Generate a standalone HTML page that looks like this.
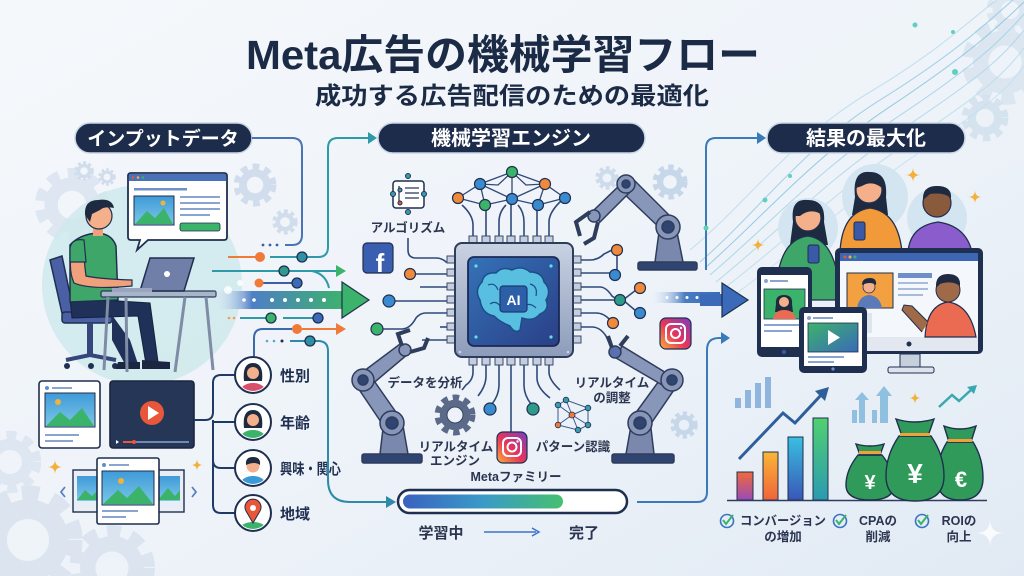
<!DOCTYPE html>
<html><head><meta charset="utf-8">
<style>
html,body{margin:0;padding:0;width:1024px;height:576px;overflow:hidden;background:#eef3f8}
svg{display:block}
text{font-family:"Liberation Sans","Noto Sans CJK JP",sans-serif;font-weight:bold}
</style></head>
<body>
<svg width="1024" height="576" viewBox="0 0 1024 576" xmlns="http://www.w3.org/2000/svg">
<defs>
<linearGradient id="bg" x1="0" y1="0" x2="1" y2="1">
<stop offset="0" stop-color="#f5f8fb"/><stop offset="0.55" stop-color="#eef3f9"/><stop offset="1" stop-color="#e1eaf4"/></linearGradient>
<linearGradient id="band" x1="0" y1="0" x2="1" y2="0">
<stop offset="0" stop-color="#eaf2fa" stop-opacity="0"/><stop offset="0.3" stop-color="#4e7fc6"/><stop offset="1" stop-color="#3cb36a"/></linearGradient>
<linearGradient id="band2" x1="0" y1="0" x2="1" y2="0">
<stop offset="0" stop-color="#eaf2fa" stop-opacity="0"/><stop offset="0.5" stop-color="#4a7cc4"/><stop offset="1" stop-color="#3a6ab8"/></linearGradient>
<linearGradient id="prog" x1="0" y1="0" x2="1" y2="0">
<stop offset="0" stop-color="#3a62c0"/><stop offset="0.5" stop-color="#3a9ac8"/><stop offset="1" stop-color="#46c070"/></linearGradient>
<linearGradient id="ig" x1="0" y1="1" x2="1" y2="0">
<stop offset="0" stop-color="#f9b03a"/><stop offset="0.45" stop-color="#e8355a"/><stop offset="1" stop-color="#7a3ec0"/></linearGradient>
<linearGradient id="chip" x1="0" y1="0" x2="0" y2="1">
<stop offset="0" stop-color="#c9d2e2"/><stop offset="1" stop-color="#8d9cba"/></linearGradient>
<linearGradient id="chipIn" x1="0" y1="0" x2="1" y2="1">
<stop offset="0" stop-color="#3572b8"/><stop offset="1" stop-color="#2a3f86"/></linearGradient>
<linearGradient id="b1" x1="0" y1="0" x2="0" y2="1"><stop offset="0" stop-color="#f06a3a"/><stop offset="1" stop-color="#9a4ab8"/></linearGradient>
<linearGradient id="b2" x1="0" y1="0" x2="0" y2="1"><stop offset="0" stop-color="#f8b636"/><stop offset="1" stop-color="#f0643a"/></linearGradient>
<linearGradient id="b3" x1="0" y1="0" x2="0" y2="1"><stop offset="0" stop-color="#38c0e0"/><stop offset="1" stop-color="#3a56b8"/></linearGradient>
<linearGradient id="b4" x1="0" y1="0" x2="0" y2="1"><stop offset="0" stop-color="#52d070"/><stop offset="1" stop-color="#2a9ab0"/></linearGradient>
<linearGradient id="sky" x1="0" y1="0" x2="0" y2="1"><stop offset="0" stop-color="#3f9ad8"/><stop offset="1" stop-color="#7cc8e8"/></linearGradient>
<linearGradient id="vid" x1="0" y1="0" x2="1" y2="1"><stop offset="0" stop-color="#3cb36a"/><stop offset="1" stop-color="#3a6ab8"/></linearGradient>
<g id="gear"><circle r="15" fill="none" stroke-width="9" stroke-dasharray="5.5 4.3"/><circle r="11" fill="none" stroke-width="7"/></g>
<clipPath id="av"><circle r="16"/></clipPath>
<path id="star" d="M0,-7 Q0,0 7,0 Q0,0 0,7 Q0,0 -7,0 Q0,0 0,-7Z"/>
</defs>

<rect width="1024" height="576" fill="url(#bg)"/>

<!-- background gears -->
<g opacity="0.9">
<use href="#gear" stroke="#dbe5f0" transform="translate(72,205) scale(1.9)"/>
<use href="#gear" stroke="#dbe5f0" transform="translate(10,462) scale(1.6)"/>
<use href="#gear" stroke="#d8e3ee" transform="translate(28,540) scale(2.8)"/>
<use href="#gear" stroke="#d8e3ee" transform="translate(112,568) scale(2.2)"/>
<use href="#gear" stroke="#cddbea" transform="translate(255,185) scale(1.1)"/>
<use href="#gear" stroke="#cddbea" transform="translate(285,222) scale(0.65)"/>
<use href="#gear" stroke="#cddbea" transform="translate(84,171) scale(0.5)"/>
<use href="#gear" stroke="#cddbea" transform="translate(107,177) scale(0.45)"/>
<use href="#gear" stroke="#c9d9ea" transform="translate(607,178) scale(0.6)"/>
<use href="#gear" stroke="#c2d4e8" transform="translate(670,182) scale(0.9)"/>
<use href="#gear" stroke="#c2d4e8" transform="translate(684,425) scale(0.7)"/>
<use href="#gear" stroke="#dae5f0" transform="translate(1005,62) scale(2.2)"/>
<use href="#gear" stroke="#d3e1ee" transform="translate(985,118) scale(1.2)"/>
<use href="#gear" stroke="#dbe6f0" transform="translate(1010,10) scale(1.2)"/>
</g>

<!-- swirl lines top right -->
<g fill="none" stroke-width="1.1" opacity="0.75">
<path d="M700,262 C760,210 800,150 880,100 S990,20 1024,-10" stroke="#8ec6e0"/>
<path d="M705,268 C765,215 810,160 888,108 S995,30 1024,2" stroke="#7fc0dc"/>
<path d="M710,275 C772,222 818,170 896,118 S1000,42 1024,14" stroke="#9bcfe4"/>
<path d="M716,282 C780,230 826,180 904,128 S1004,56 1024,30" stroke="#a8d4e6"/>
<path d="M722,290 C790,238 836,190 912,140 S1008,70 1024,48" stroke="#b4dbe9"/>
<path d="M730,298 C800,248 846,202 920,152 S1010,86 1024,66" stroke="#c0e0ec"/>
<path d="M690,250 C750,200 790,140 870,92 S980,10 1010,-10" stroke="#b6d8ea"/>
</g>
<g fill="#5fd0c0"><circle cx="765" cy="200" r="2.5"/><circle cx="790" cy="176" r="2"/><circle cx="915" cy="25" r="2.5"/><circle cx="953" cy="32" r="2"/><circle cx="955" cy="72" r="3"/></g>

<!-- Title -->
<text x="503" y="69" text-anchor="middle" font-size="41" fill="#1b2a45" textLength="514" lengthAdjust="spacingAndGlyphs">Meta広告の機械学習フロー</text>
<text x="512" y="104" text-anchor="middle" font-size="24" fill="#1b2a45" textLength="394" lengthAdjust="spacingAndGlyphs">成功する広告配信のための最適化</text>

<!-- Pills -->
<rect x="75" y="123" width="177" height="30" rx="15" fill="#1d2c4b" stroke="#c9d6e6" stroke-width="1.5"/>
<text x="163" y="145" text-anchor="middle" font-size="19" fill="#fff">インプットデータ</text>
<rect x="378" y="123" width="267" height="30" rx="15" fill="#1d2c4b" stroke="#c9d6e6" stroke-width="1.5"/>
<text x="511" y="145" text-anchor="middle" font-size="20" fill="#fff">機械学習エンジン</text>
<rect x="767" y="123" width="198" height="30" rx="15" fill="#1d2c4b" stroke="#c9d6e6" stroke-width="1.5"/>
<text x="866" y="145" text-anchor="middle" font-size="20" fill="#fff">結果の最大化</text>

<!-- Left: person scene -->
<circle cx="142" cy="285" r="100" fill="#cfe9ec" opacity="0.85"/>
<!-- bubble -->
<path d="M128,176 Q128,173 131,173 H224 Q227,173 227,176 V237 Q227,240 224,240 H148 L137,250 L140,240 H131 Q128,240 128,237 Z" fill="#fff" stroke="#1f2f4f" stroke-width="1.8"/>
<rect x="129" y="174" width="97" height="7" fill="#4a72b8"/>
<circle cx="133" cy="177.5" r="1.3" fill="#e8573a"/><circle cx="138" cy="177.5" r="1.3" fill="#f2b13a"/><circle cx="143" cy="177.5" r="1.3" fill="#3cb36a"/>
<rect x="134" y="188" width="53" height="2.5" fill="#6f8fc8"/>
<rect x="134" y="196" width="40" height="29" fill="url(#sky)" stroke="#1f2f4f" stroke-width="1"/>
<path d="M135,224 L147,211 L155,218 L164,208 L173,224 Z" fill="#3cb36a"/>
<circle cx="163" cy="203" r="2.5" fill="#f2b13a"/>
<rect x="180" y="196" width="40" height="2" fill="#8aa4d0"/><rect x="180" y="202" width="40" height="2" fill="#8aa4d0"/><rect x="180" y="208" width="40" height="2" fill="#8aa4d0"/><rect x="180" y="214" width="30" height="2" fill="#8aa4d0"/>
<rect x="180" y="223" width="40" height="8" rx="2" fill="#3cb36a" stroke="#1f2f4f" stroke-width="0.8"/>
<!-- chair -->
<path d="M50,260 L62,256 L75,318 L64,322 Z" fill="#4b60a4" stroke="#1f2f4f" stroke-width="1.5"/>
<rect x="62" y="312" width="50" height="11" rx="3" fill="#4b60a4" stroke="#1f2f4f" stroke-width="1.5"/>
<rect x="87" y="323" width="6" height="34" fill="#34467a"/>
<path d="M66,360 L90,355 L116,360" stroke="#34467a" stroke-width="4" fill="none"/>
<circle cx="67" cy="366" r="3" fill="#1f2f4f"/><circle cx="91" cy="366" r="3" fill="#1f2f4f"/><circle cx="115" cy="366" r="3" fill="#1f2f4f"/>
<!-- legs -->
<path d="M70,298 L150,303 L158,362 L146,364 L138,316 L72,318 Z" fill="#1f3158" stroke="#15213e" stroke-width="1"/>
<path d="M112,315 L130,340 L138,364 L126,366 L112,340 Z" fill="#1f3158"/>
<path d="M142,360 L170,362 L170,369 L142,369 Z" fill="#1b2740"/>
<path d="M118,362 L140,362 L140,369 L116,369 Z" fill="#1b2740"/>
<!-- torso -->
<path d="M70,245 Q80,234 98,233 Q112,234 116,246 L118,300 L70,302 Z" fill="#3fa66a" stroke="#1f2f4f" stroke-width="1.5"/>
<path d="M72,250 Q68,270 74,283 Q90,290 132,286 L132,280 Q100,279 86,276 Q84,262 84,250 Z" fill="#f0a07a" stroke="#1f2f4f" stroke-width="1.2"/>
<path d="M70,248 Q72,238 84,240 L86,262 L70,262 Z" fill="#3fa66a" stroke="#1f2f4f" stroke-width="1.2"/>
<!-- head -->
<rect x="93" y="224" width="10" height="12" fill="#f0a07a"/>
<circle cx="99" cy="216" r="13" fill="#f3b08a" stroke="#1f2f4f" stroke-width="1.2"/>
<path d="M85,215 Q84,200 98,200 Q112,198 114,208 Q104,206 100,210 Q96,212 92,214 L90,222 Z" fill="#1e2a40"/>
<!-- desk -->
<rect x="101" y="291" width="115" height="6" rx="1.5" fill="#a8b4c8" stroke="#2a3a58" stroke-width="1.3"/>
<path d="M108,297 L104,370 M126,297 L127,372 M185,297 L175,372 M206,297 L213,370" stroke="#7f8ca6" stroke-width="3"/>
<!-- laptop -->
<path d="M150,258 L194,258 L184,291 L140,291 Z" fill="#6f7fa8" stroke="#1f2f4f" stroke-width="1.5"/>
<rect x="112" y="288" width="40" height="4" fill="#9aa6c0"/>
<circle cx="167" cy="274" r="3" fill="#fff"/>

<!-- image card -->
<rect x="39" y="381" width="61" height="67" rx="3" fill="#fff" stroke="#1f2f4f" stroke-width="1.6"/>
<circle cx="47" cy="388" r="2" fill="#5a8fd0"/><rect x="52" y="387" width="20" height="2" fill="#8aa4d0"/>
<rect x="45" y="393" width="50" height="34" fill="url(#sky)" stroke="#1f2f4f" stroke-width="1"/>
<path d="M46,426 L60,412 L70,420 L82,408 L94,426 Z" fill="#3cb36a"/>
<circle cx="58" cy="402" r="3" fill="#f2b13a"/>
<rect x="45" y="434" width="34" height="2" fill="#8aa4d0"/><rect x="45" y="440" width="28" height="2" fill="#8aa4d0"/>
<!-- video card -->
<rect x="110" y="381" width="84" height="67" rx="3" fill="#263656" stroke="#1a2440" stroke-width="1.6"/>
<circle cx="152" cy="413" r="12" fill="#e8573a"/>
<path d="M148,406 L159,413 L148,420 Z" fill="#fff"/>
<path d="M116,440 L119,442 L116,444 Z" fill="#fff"/>
<line x1="123" y1="442" x2="189" y2="442" stroke="#8aa4d0" stroke-width="1.5"/>
<line x1="123" y1="442" x2="134" y2="442" stroke="#e8573a" stroke-width="2"/><circle cx="134" cy="442" r="2" fill="#e8573a"/>
<!-- carousel -->
<rect x="73" y="470" width="30" height="42" fill="#e9eef6" stroke="#1f2f4f" stroke-width="1.4"/>
<rect x="77" y="476" width="23" height="25" fill="url(#sky)"/><path d="M77,500 L85,490 L92,496 L100,488 L100,500 Z" fill="#3cb36a"/>
<rect x="154" y="470" width="30" height="42" fill="#e9eef6" stroke="#1f2f4f" stroke-width="1.4"/>
<rect x="158" y="476" width="22" height="25" fill="url(#sky)"/><path d="M158,500 L168,488 L175,496 L180,490 L180,500 Z" fill="#3cb36a"/>
<rect x="97" y="458" width="62" height="66" rx="2" fill="#fff" stroke="#1f2f4f" stroke-width="1.6"/>
<circle cx="104" cy="465" r="2" fill="#5a8fd0"/><rect x="109" y="464" width="20" height="2" fill="#8aa4d0"/>
<rect x="102" y="471" width="52" height="34" fill="url(#sky)" stroke="#1f2f4f" stroke-width="1"/>
<path d="M103,504 L118,490 L127,498 L139,486 L153,504 Z" fill="#3cb36a"/>
<circle cx="121" cy="481" r="3" fill="#f2b13a"/>
<rect x="102" y="510" width="36" height="2" fill="#8aa4d0"/><rect x="102" y="516" width="24" height="2" fill="#8aa4d0"/>
<path d="M65,487 L61,492 L65,497" stroke="#5a7fc0" stroke-width="1.8" fill="none"/>
<path d="M192,487 L196,492 L192,497" stroke="#5a7fc0" stroke-width="1.8" fill="none"/>
<use href="#star" fill="#f2b13a" transform="translate(55,467) scale(1.1)"/>
<use href="#star" fill="#f2b13a" transform="translate(197,465) scale(0.9)"/>

<!-- tree to avatars -->
<path d="M194,420 H205 Q213,420 213,412 V383 Q213,375 221,375 H236 M213,420 V505 Q213,513 221,513 H236 M213,422 H236 M213,460 Q213,468 221,468 H236" stroke="#1f3a66" stroke-width="2" fill="none"/>
<!-- avatars -->
<g transform="translate(253,375)">
<circle r="18" fill="#fff" stroke="#1f2f4f" stroke-width="2"/>
<g clip-path="url(#av)"><path d="M-9,6 Q-11,-12 0,-12 Q11,-12 9,6 Z" fill="#1e2a40"/><circle cy="-2" r="6" fill="#f3b08a"/><ellipse cy="17" rx="13" ry="9" fill="#d9506a"/></g>
</g>
<g transform="translate(253,422)">
<circle r="18" fill="#fff" stroke="#1f2f4f" stroke-width="2"/>
<g clip-path="url(#av)"><path d="M-9,6 Q-11,-12 0,-12 Q11,-12 9,6 Z" fill="#1e2a40"/><circle cy="-2" r="6" fill="#f3b08a"/><ellipse cy="17" rx="13" ry="9" fill="#3cb36a"/></g>
</g>
<g transform="translate(253,468)">
<circle r="18" fill="#fff" stroke="#1f2f4f" stroke-width="2"/>
<g clip-path="url(#av)"><circle cy="-2" r="6.5" fill="#f3b08a"/><path d="M-7,-3 Q-8,-11 0,-11 Q8,-11 7,-3 Q2,-7 -7,-3Z" fill="#1e2a40"/><ellipse cy="17" rx="13" ry="9" fill="#3a9ad8"/></g>
</g>
<g transform="translate(253,513)">
<circle r="18" fill="#fff" stroke="#1f2f4f" stroke-width="2"/>
<g clip-path="url(#av)"><ellipse cy="17" rx="14" ry="8" fill="#3cb36a"/><path d="M0,10 L-7,-2 A8,8 0 1 1 7,-2 Z" fill="#e8573a" stroke="#1f2f4f" stroke-width="1"/><circle cy="-5" r="3" fill="#fff"/></g>
</g>
<text x="280" y="381" font-size="15" fill="#1f2f4f">性別</text>
<text x="280" y="428" font-size="15" fill="#1f2f4f">年齢</text>
<text x="280" y="474" font-size="15" fill="#1f2f4f" textLength="61" lengthAdjust="spacingAndGlyphs">興味・関心</text>
<text x="280" y="519" font-size="15" fill="#1f2f4f">地域</text>

<!-- left flow lines -->
<g fill="none" stroke-width="2">
<path d="M252,138 H292 Q302,138 302,148 V235 Q302,245 292,245 H285" stroke="#4a73b8"/>
<path d="M270,257 H318 Q328,257 328,247 V148 Q328,138 338,138 H368" stroke="#2e9aa8"/>
<path d="M228,257 H258" stroke="#f07a3a"/>
<path d="M212,271 H338" stroke="#2e9aa8"/>
<path d="M312,271 Q326,274 329,288" stroke="#2e9aa8"/>
<path d="M262,283 H295" stroke="#3a5fa8"/>
<path d="M240,318 H270 M283,318 H316" stroke="#2e9aa8"/>
<path d="M302,329 H338" stroke="#f07a3a"/>
<path d="M292,329 H263 Q254,329 254,338 V356" stroke="#3a6aa8"/>
<path d="M290,341 H318 Q328,341 328,351 V480 Q328,502 350,502 H388" stroke="#2e8aa8"/>
</g>
<path d="M368,132 L377,138 L368,144 Z" fill="#2e9aa8"/>
<path d="M336,265 L346,271 L336,277 Z" fill="#3cb36a"/>
<path d="M336,323 L346,329 L336,335 Z" fill="#f07a3a"/>
<path d="M386,496 L396,502 L386,508 Z" fill="#2e8aa8"/>
<g fill="#3a5fa8"><circle cx="263" cy="245" r="1.4"/><circle cx="270" cy="245" r="1.4"/><circle cx="277" cy="245" r="1.4"/></g>
<g fill="#f0a050"><circle cx="229" cy="318" r="1.3"/><circle cx="234" cy="318" r="1.3"/></g>
<g fill="#5aa8c8"><circle cx="267" cy="341" r="1.3"/><circle cx="274" cy="341" r="1.3"/><circle cx="282" cy="341" r="1.5" fill="#1f2f4f"/></g>
<g stroke="#1f2f4f" stroke-width="1.3">
<circle cx="302" cy="257" r="5" fill="#2f8fa4"/>
<circle cx="260" cy="257" r="5" fill="#f07a3a" stroke="none"/>
<circle cx="284" cy="271" r="5" fill="#2e9a8a"/>
<circle cx="259" cy="283" r="4.5" fill="#f07a3a" stroke="none"/>
<circle cx="297" cy="283" r="5" fill="#3a6ab8"/>
<circle cx="271" cy="318" r="5" fill="#3cb36a"/>
<circle cx="318" cy="318" r="5" fill="#3a6ab8"/>
<circle cx="297" cy="329" r="5" fill="#f07a3a" stroke="none"/>
<circle cx="310" cy="341" r="5" fill="#2f8fa4"/>
</g>
<!-- big arrow -->
<rect x="212" y="291" width="134" height="18" fill="url(#band)"/>
<path d="M342,282 L369,300 L342,318 Z" fill="#3cb36a" stroke="#1f2f4f" stroke-width="1.2"/>
<g fill="#fff"><circle cx="244" cy="300" r="1.8"/><circle cx="254" cy="300" r="1.8"/><circle cx="272" cy="300" r="2"/><circle cx="285" cy="300" r="2"/><circle cx="298" cy="300" r="2"/><circle cx="311" cy="300" r="2"/><circle cx="324" cy="300" r="2"/></g>
<circle cx="228" cy="290" r="4" fill="#fff" opacity="0.8"/><circle cx="240" cy="283" r="3" fill="#fff" opacity="0.8"/>

<!-- Middle: connectors around chip -->
<g fill="none" stroke="#2f4a7a" stroke-width="1.6">
<path d="M408,238 V250 Q408,258 416,258 H436 Q442,258 446,262 H452"/>
<path d="M414,274 H452"/>
<path d="M420,287 H452"/>
<path d="M393,301 H452"/>
<path d="M381,329 H402 Q410,329 416,318 Q420,313 426,313 H452"/>
<path d="M440,327 H452"/>
<path d="M422,340 H452"/>
<path d="M570,260 H590 Q598,260 604,254 L612,250"/>
<path d="M570,273 H610"/>
<path d="M570,287 H600 Q606,287 612,296 L618,300"/>
<path d="M570,300 H615 M623,300 L636,290 M623,300 L636,311"/>
<path d="M570,313 H596 Q604,313 610,320"/>
<path d="M570,327 H592 Q600,327 606,336 L612,350"/>
<path d="M617,250 V275"/>
<path d="M473,365 V372 Q473,380 466,385 L462,390"/>
<path d="M486,365 V376 Q486,386 478,396"/>
<path d="M499,365 V385 Q499,395 492,404"/>
<path d="M511,365 V432"/>
<path d="M524,365 V385 Q524,395 531,404"/>
<path d="M537,365 V378 Q537,388 550,398"/>
<path d="M549,365 V372 Q549,380 560,390"/>
<path d="M473,243 V225 Q473,215 462,205"/>
<path d="M486,243 V208"/>
<path d="M499,243 V222 Q499,212 506,205"/>
<path d="M511,243 V200"/>
<path d="M524,243 V222 Q524,212 518,205"/>
<path d="M537,243 V208"/>
<path d="M549,243 V222 Q549,212 562,200"/>
</g>
<!-- neural net -->
<g stroke="#2f4a7a" stroke-width="1.3" fill="none">
<path d="M512,172 L480,184 L458,198 M512,172 L545,184 L565,198 M480,184 L485,205 L512,199 L538,205 L545,184 M480,184 L512,199 L545,184 M458,198 L485,205 M538,205 L565,198 M512,172 L512,199 M480,184 L498,185 L512,172 L526,185 L545,184"/>
</g>
<g stroke="#1f2f4f" stroke-width="1.2">
<circle cx="512" cy="172" r="5.5" fill="#3cb36a"/>
<circle cx="480" cy="184" r="5.5" fill="#3a8ad0"/>
<circle cx="545" cy="184" r="5.5" fill="#f08a3a"/>
<circle cx="458" cy="198" r="5.5" fill="#f08a3a"/>
<circle cx="485" cy="205" r="5.5" fill="#3cb36a"/>
<circle cx="512" cy="199" r="5.5" fill="#3a8ad0"/>
<circle cx="538" cy="205" r="5.5" fill="#3a8ad0"/>
<circle cx="565" cy="198" r="5.5" fill="#3a8ad0"/>
</g>
<!-- left/right nodes -->
<g stroke="#1f2f4f" stroke-width="1.2">
<circle cx="410" cy="274" r="5.5" fill="#f08a3a"/>
<circle cx="389" cy="301" r="6" fill="#3a8ad0"/>
<circle cx="377" cy="329" r="6" fill="#3cb36a"/>
<circle cx="617" cy="250" r="5.5" fill="#f08a3a"/>
<circle cx="615" cy="275" r="5.5" fill="#3a8ad0"/>
<circle cx="640" cy="288" r="5.5" fill="#f08a3a"/>
<circle cx="620" cy="300" r="5.5" fill="#2e9a8a"/>
<circle cx="640" cy="313" r="5.5" fill="#3a8ad0"/>
<circle cx="613" cy="323" r="5.5" fill="#f08a3a"/>
<circle cx="490" cy="409" r="6" fill="#3a8ad0"/>
<circle cx="533" cy="409" r="6" fill="#2e9a8a"/>
</g>
<!-- chip -->
<g fill="#c5cede" stroke="#3a4a6a" stroke-width="1">
<rect x="469" y="236" width="8" height="8"/><rect x="482" y="236" width="8" height="8"/><rect x="495" y="236" width="8" height="8"/><rect x="507" y="236" width="8" height="8"/><rect x="520" y="236" width="8" height="8"/><rect x="533" y="236" width="8" height="8"/><rect x="545" y="236" width="8" height="8"/>
<rect x="469" y="356" width="8" height="9"/><rect x="482" y="356" width="8" height="9"/><rect x="495" y="356" width="8" height="9"/><rect x="507" y="356" width="8" height="9"/><rect x="520" y="356" width="8" height="9"/><rect x="533" y="356" width="8" height="9"/><rect x="545" y="356" width="8" height="9"/>
<rect x="447" y="256" width="9" height="7"/><rect x="447" y="269" width="9" height="7"/><rect x="447" y="283" width="9" height="7"/><rect x="447" y="296" width="9" height="7"/><rect x="447" y="309" width="9" height="7"/><rect x="447" y="323" width="9" height="7"/><rect x="447" y="336" width="9" height="7"/>
<rect x="572" y="256" width="9" height="7"/><rect x="572" y="269" width="9" height="7"/><rect x="572" y="283" width="9" height="7"/><rect x="572" y="296" width="9" height="7"/><rect x="572" y="309" width="9" height="7"/><rect x="572" y="323" width="9" height="7"/><rect x="572" y="336" width="9" height="7"/>
</g>
<rect x="455" y="243" width="118" height="114" rx="7" fill="url(#chip)" stroke="#2f3d5c" stroke-width="2"/>
<rect x="468" y="257" width="91" height="89" rx="6" fill="url(#chipIn)" stroke="#1a2a55" stroke-width="1.8"/>
<g fill="#5ee0e8"><circle cx="476" cy="266" r="1.6"/><circle cx="551" cy="266" r="1.6"/><circle cx="476" cy="337" r="1.6"/><circle cx="551" cy="337" r="1.6"/></g>
<g fill="#c8d4e6"><circle cx="460" cy="248" r="1.3"/><circle cx="568" cy="248" r="1.3"/><circle cx="460" cy="352" r="1.3"/><circle cx="568" cy="352" r="1.3"/></g>
<!-- brain -->
<path d="M480,300 Q474,290 482,282 Q484,272 496,273 Q502,266 512,270 Q522,265 530,272 Q542,272 544,282 Q552,290 546,300 Q550,310 540,314 Q534,322 522,318 L520,330 Q515,334 510,326 Q500,322 494,316 Q482,314 480,300 Z" fill="#58bfe0" stroke="#1c4e8a" stroke-width="1.5"/>
<path d="M488,285 Q495,282 498,290 M530,284 Q538,286 536,296 M490,304 Q496,300 500,306 M524,306 Q530,302 536,308" stroke="#1c4e8a" stroke-width="1.2" fill="none"/>
<rect x="500" y="286" width="27" height="26" rx="3" fill="#2c5fa8" stroke="#1a3a70" stroke-width="1.2"/>
<text x="513.5" y="305" text-anchor="middle" font-size="14" fill="#fff">AI</text>

<!-- algorithm icon -->
<rect x="393" y="181" width="31" height="27" rx="3" fill="#fff" stroke="#1f2f4f" stroke-width="1.5"/>
<g stroke="#1f2f4f" stroke-width="1.2"><line x1="405" y1="188" x2="419" y2="188"/><line x1="405" y1="193" x2="419" y2="193"/><line x1="405" y1="198" x2="419" y2="198"/><line x1="399" y1="186" x2="399" y2="202"/></g>
<g stroke="#1f2f4f" stroke-width="1"><circle cx="408" cy="176" r="2.5" fill="#3a9ab0"/><circle cx="393" cy="194" r="2.5" fill="#3a9ab0"/><circle cx="424" cy="194" r="2.5" fill="#3a9ab0"/><circle cx="408" cy="212" r="2.5" fill="#3a9ab0"/><circle cx="400" cy="190" r="2" fill="#3a9ab0"/><circle cx="400" cy="203" r="2" fill="#e8573a"/></g>
<text x="408" y="232" text-anchor="middle" font-size="12.5" fill="#2b3550">アルゴリズム</text>

<!-- facebook -->
<rect x="363" y="243" width="30" height="30" rx="4" fill="#3b5fb0" stroke="#1f2f4f" stroke-width="1.2"/>
<text x="380" y="272" text-anchor="middle" font-size="26" fill="#fff">f</text>

<!-- robot arms -->
<g stroke="#2f3d5c" stroke-width="1.5">
<rect x="638" y="262" width="59" height="8" rx="2" fill="#2f4470"/>
<path d="M655,262 L659,232 L677,232 L683,262 Z" fill="#7a88ae"/>
<path d="M664,232 L620,190 L632,178 L676,222 Z" fill="#8896ba"/>
<path d="M625,180 L592,212 L600,222 L632,190 Z" fill="#8896ba"/>
<circle cx="668" cy="227" r="12" fill="#8896ba"/><circle cx="668" cy="227" r="6" fill="#2f4470"/>
<circle cx="626" cy="184" r="9" fill="#8896ba"/><circle cx="626" cy="184" r="4" fill="#2f4470"/>
<circle cx="594" cy="216" r="6" fill="#8896ba"/>
<path d="M590,212 L576,222 L580,236 M598,222 L594,238 L584,244" fill="none" stroke="#2f3d5c" stroke-width="4"/>
<rect x="362" y="454" width="60" height="9" rx="2" fill="#2f4470"/>
<path d="M380,454 L384,420 L402,420 L408,454 Z" fill="#7a88ae"/>
<path d="M385,428 L356,385 L370,375 L400,418 Z" fill="#8896ba"/>
<path d="M360,374 L400,344 L408,354 L370,386 Z" fill="#8896ba"/>
<circle cx="392" cy="423" r="12" fill="#8896ba"/><circle cx="392" cy="423" r="6" fill="#2f4470"/>
<circle cx="363" cy="380" r="11" fill="#8896ba"/><circle cx="363" cy="380" r="5" fill="#2f4470"/>
<circle cx="405" cy="350" r="6" fill="#8896ba"/>
<path d="M402,346 L398,334 L410,330 M410,352 L424,348 L428,338" fill="none" stroke="#2f3d5c" stroke-width="4"/>
<rect x="612" y="454" width="62" height="9" rx="2" fill="#2f4470"/>
<path d="M626,454 L632,420 L650,420 L654,454 Z" fill="#7a88ae"/>
<path d="M632,418 L664,374 L678,384 L648,428 Z" fill="#8896ba"/>
<path d="M668,374 L622,346 L616,358 L664,386 Z" fill="#8896ba"/>
<circle cx="640" cy="423" r="12" fill="#8896ba"/><circle cx="640" cy="423" r="6" fill="#2f4470"/>
<circle cx="672" cy="380" r="11" fill="#8896ba"/><circle cx="672" cy="380" r="5" fill="#2f4470"/>
<circle cx="615" cy="352" r="6" fill="#5a70b0"/>
<path d="M612,348 L608,336 M620,346 L628,336" fill="none" stroke="#2f3d5c" stroke-width="4"/>
</g>

<!-- gear icon + pattern -->
<use href="#gear" stroke="#5b6a88" transform="translate(455,415) scale(1.05)"/>
<circle cx="455" cy="415" r="8" fill="none" stroke="#3a4866" stroke-width="1"/>
<g stroke="#3a5a8a" stroke-width="1" fill="none"><path d="M558,405 L572,415 L588,408 M558,425 L572,415 L588,425 M566,400 L572,415 L578,430 M558,405 L566,400 L588,408 L588,425 L578,430 L558,425 Z"/></g>
<g stroke="#1f2f4f" stroke-width="0.8"><circle cx="572" cy="415" r="3" fill="#f07a3a"/><circle cx="558" cy="405" r="2.8" fill="#3a9ab0"/><circle cx="566" cy="400" r="2.8" fill="#3a9ab0"/><circle cx="588" cy="408" r="2.8" fill="#3a9ab0"/><circle cx="588" cy="425" r="2.8" fill="#3a9ab0"/><circle cx="578" cy="430" r="2.8" fill="#3a9ab0"/><circle cx="558" cy="425" r="2.8" fill="#f07a3a"/></g>

<!-- instagram icons -->
<rect x="497" y="432" width="30" height="31" rx="6" fill="url(#ig)" stroke="#1f2f4f" stroke-width="1.2"/>
<rect x="503" y="438" width="18" height="18" rx="5" fill="none" stroke="#fff" stroke-width="2"/>
<circle cx="512" cy="447" r="4.5" fill="none" stroke="#fff" stroke-width="2"/><circle cx="517.5" cy="441.5" r="1.2" fill="#fff"/>
<rect x="660" y="318" width="31" height="31" rx="6" fill="url(#ig)" stroke="#1f2f4f" stroke-width="1.2"/>
<rect x="666" y="324" width="19" height="19" rx="5" fill="none" stroke="#fff" stroke-width="2"/>
<circle cx="675.5" cy="333.5" r="4.5" fill="none" stroke="#fff" stroke-width="2"/><circle cx="681" cy="328" r="1.2" fill="#fff"/>

<!-- middle labels -->
<text x="425" y="387" text-anchor="middle" font-size="12.5" fill="#2b3550">データを分析</text>
<text x="612" y="387" text-anchor="middle" font-size="12.5" fill="#2b3550">リアルタイム</text>
<text x="612" y="402" text-anchor="middle" font-size="12.5" fill="#2b3550">の調整</text>
<text x="456" y="451" text-anchor="middle" font-size="12.5" fill="#2b3550">リアルタイム</text>
<text x="455" y="465" text-anchor="middle" font-size="12.5" fill="#2b3550">エンジン</text>
<text x="573" y="451" text-anchor="middle" font-size="12.5" fill="#2b3550">パターン認識</text>
<text x="516" y="481" text-anchor="middle" font-size="12.5" fill="#2b3550">Metaファミリー</text>

<!-- progress -->
<rect x="398" y="490" width="229" height="23" rx="11.5" fill="#fff" stroke="#1f2f4f" stroke-width="2.5"/>
<rect x="403" y="494.5" width="160" height="14" rx="7" fill="url(#prog)"/>
<text x="441" y="538" text-anchor="middle" font-size="15" fill="#2b3550">学習中</text>
<line x1="484" y1="532" x2="536" y2="532" stroke="#3d73c4" stroke-width="1.5"/>
<path d="M532,528 L539,532 L532,536" fill="none" stroke="#3d73c4" stroke-width="1.5"/>
<text x="584" y="538" text-anchor="middle" font-size="15" fill="#2b3550">完了</text>

<!-- right flow lines -->
<rect x="650" y="292" width="70" height="11" fill="url(#band2)"/>
<g fill="#fff"><circle cx="667" cy="297.5" r="1.5"/><circle cx="677" cy="297.5" r="1.5"/><circle cx="687" cy="297.5" r="1.5"/><circle cx="697" cy="297.5" r="1.5"/></g>
<rect x="700" y="294" width="25" height="12" fill="#3a6ab8"/>
<path d="M722,283 L748,300 L722,317 Z" fill="#3a6ab8" stroke="#1f2f4f" stroke-width="1.2"/>
<g fill="none" stroke-width="2">
<path d="M706,270 V148 Q706,138 716,138 H758" stroke="#3a7ab8"/>
<path d="M637,502 H697 Q707,502 707,492 V350 Q707,338 719,338 H722" stroke="#3a7ab8"/>
</g>
<path d="M757,132 L766,138 L757,144 Z" fill="#3a7ab8"/>
<path d="M721,332 L730,338 L721,344 Z" fill="#3a7ab8"/>
<circle cx="706" cy="228" r="2.5" fill="#5fd0b0"/>

<!-- right: people -->
<circle cx="875" cy="197" r="33" fill="#d4e5f2"/>
<circle cx="937" cy="218" r="30" fill="#d4e5f2"/>
<circle cx="808" cy="228" r="30" fill="#d4e5f2"/>
<path d="M908,252 Q910,226 938,222 Q966,226 972,252 Z" fill="#8a5ccc" stroke="#1f2f4f" stroke-width="1.3"/>
<circle cx="937" cy="203" r="14" fill="#8a5a3c" stroke="#1f2f4f" stroke-width="1.2"/>
<path d="M923,200 Q922,186 937,186 Q952,186 951,198 Q944,192 930,194 Z" fill="#1e2a40"/>
<path d="M855,197 Q852,170 870,172 Q888,172 886,197 L888,215 L852,215 Z" fill="#1e2a40"/>
<path d="M840,252 Q842,212 870,208 Q898,212 902,252 Z" fill="#f29a3a" stroke="#1f2f4f" stroke-width="1.3"/>
<circle cx="869" cy="190" r="13" fill="#f3b08a" stroke="#1f2f4f" stroke-width="1.2"/>
<path d="M856,188 Q856,174 870,175 Q884,176 882,188 Q872,180 862,186 Z" fill="#1e2a40"/>
<rect x="854" y="222" width="11" height="18" rx="2" fill="#3a5aa8" stroke="#1f2f4f" stroke-width="1"/>
<path d="M793,222 Q790,198 808,200 Q826,200 824,222 L828,245 L790,245 Z" fill="#1e2a40"/>
<path d="M776,300 Q776,240 808,236 Q838,240 840,300 Z" fill="#3fa66a" stroke="#1f2f4f" stroke-width="1.3"/>
<circle cx="808" cy="218" r="13" fill="#f3b08a" stroke="#1f2f4f" stroke-width="1.2"/>
<path d="M795,216 Q795,203 809,204 Q822,205 821,214 Q810,208 800,216 Z" fill="#1e2a40"/>
<rect x="808" y="245" width="11" height="18" rx="2" fill="#3a5aa8" stroke="#1f2f4f" stroke-width="1"/>
<use href="#star" fill="#f2b13a" transform="translate(913,175) scale(1.1)"/>
<use href="#star" fill="#f2b13a" transform="translate(975,197) scale(1)"/>
<use href="#star" fill="#f2b13a" transform="translate(758,245) scale(1)"/>

<!-- monitor -->
<rect x="835" y="248" width="148" height="106" rx="5" fill="#1f2f4f"/>
<rect x="840" y="253" width="138" height="84" fill="#f4f7fb"/>
<rect x="840" y="253" width="138" height="8" fill="#3d66b5"/>
<circle cx="845" cy="257" r="1.5" fill="#e8573a"/><circle cx="850" cy="257" r="1.5" fill="#f2b13a"/><circle cx="855" cy="257" r="1.5" fill="#3cb36a"/>
<rect x="840" y="337" width="138" height="14" fill="#e3e8f0"/>
<circle cx="909" cy="344" r="2.5" fill="#1f2f4f"/>
<rect x="847" y="273" width="46" height="35" fill="#f3a040" stroke="#1f2f4f" stroke-width="1"/>
<circle cx="869" cy="287" r="6" fill="#f3b08a" stroke="#1f2f4f" stroke-width="0.8"/>
<path d="M862,285 Q862,278 870,278 Q877,278 876,285 Q870,281 862,285Z" fill="#1e2a40"/>
<path d="M857,308 Q859,296 869,295 Q880,296 882,308 Z" fill="#5a7ab8"/>
<rect x="898" y="273" width="34" height="5" fill="#6f8fc8"/>
<rect x="898" y="282" width="30" height="2" fill="#a8bbd8"/><rect x="898" y="288" width="30" height="2" fill="#a8bbd8"/><rect x="898" y="294" width="25" height="2" fill="#a8bbd8"/>
<rect x="847" y="313" width="25" height="20" fill="#dfe5ee"/>
<path d="M925,337 Q927,305 948,302 Q970,305 976,337 Z" fill="#ea6a52" stroke="#1f2f4f" stroke-width="1.2"/>
<circle cx="948" cy="290" r="12" fill="#a06a48" stroke="#1f2f4f" stroke-width="1"/>
<path d="M936,288 Q935,274 948,274 Q961,274 960,286 Q952,280 940,284 Z" fill="#1e2a40"/>
<path d="M922,332 L902,310 L904,305 L912,306 L928,322" fill="#a06a48" stroke="#1f2f4f" stroke-width="1"/>
<rect x="900" y="354" width="20" height="14" fill="#c6cfdc" stroke="#1f2f4f" stroke-width="1"/>
<rect x="888" y="367" width="46" height="6" rx="2" fill="#dde3ec" stroke="#1f2f4f" stroke-width="1"/>
<!-- tablet -->
<rect x="757" y="267" width="55" height="90" rx="5" fill="#1f2f4f"/>
<rect x="761" y="275" width="47" height="72" fill="#fff"/>
<circle cx="766" cy="281" r="2" fill="#8aa4d0"/><rect x="770" y="280" width="18" height="2" fill="#8aa4d0"/>
<rect x="764" y="289" width="41" height="30" fill="#3cb36a" stroke="#1f2f4f" stroke-width="0.8"/>
<path d="M776,304 Q775,295 784,295 Q793,295 792,304 L793,312 L775,312Z" fill="#1e2a40"/>
<circle cx="784" cy="302" r="5" fill="#f3b08a"/>
<path d="M773,319 Q775,310 784,310 Q794,310 796,319 Z" fill="#ea6a52"/>
<rect x="764" y="324" width="35" height="2" fill="#8aa4d0"/><rect x="764" y="330" width="28" height="2" fill="#8aa4d0"/>
<circle cx="784" cy="352" r="2" fill="#3a5aa8"/>
<!-- small tablet -->
<rect x="799" y="307" width="68" height="66" rx="5" fill="#1f2f4f"/>
<rect x="804" y="313" width="58" height="53" fill="#fff"/>
<circle cx="809" cy="318" r="2" fill="#8aa4d0"/><rect x="813" y="317" width="20" height="2" fill="#8aa4d0"/>
<rect x="808" y="323" width="50" height="29" fill="url(#vid)" stroke="#1f2f4f" stroke-width="0.8"/>
<path d="M828,330 L840,337.5 L828,345 Z" fill="#fff"/>
<rect x="808" y="356" width="36" height="2" fill="#8aa4d0"/><rect x="808" y="361" width="26" height="2" fill="#8aa4d0"/>
<circle cx="833" cy="369" r="1.6" fill="#6f8fc8"/>

<!-- charts -->
<g fill="#8fb4de"><rect x="735" y="398" width="6" height="10"/><rect x="745" y="390" width="6" height="18"/><rect x="755" y="383" width="6" height="25"/><rect x="765" y="377" width="6" height="31"/></g>
<rect x="737" y="472" width="16" height="28" fill="url(#b1)" stroke="#1f2f4f" stroke-width="1"/>
<rect x="763" y="452" width="15" height="48" fill="url(#b2)" stroke="#1f2f4f" stroke-width="1"/>
<rect x="788" y="437" width="15" height="63" fill="url(#b3)" stroke="#1f2f4f" stroke-width="1"/>
<rect x="813" y="418" width="15" height="82" fill="url(#b4)" stroke="#1f2f4f" stroke-width="1"/>
<line x1="727" y1="500.5" x2="987" y2="500.5" stroke="#2f3d5c" stroke-width="1.5"/>
<path d="M739,459 L783,413 L795,423 L822,394" fill="none" stroke="#2e5f9a" stroke-width="3"/>
<path d="M815,391 L829,387 L825,401 Z" fill="#2e5f9a"/>
<g fill="#8fc0e0"><rect x="852" y="410" width="5" height="13"/><rect x="872" y="410" width="5" height="13"/><path d="M859,423 V400 H855 L862,392 L869,400 H865 V423Z"/><path d="M880,423 V396 H876 L884,386 L892,396 H888 V423Z"/></g>
<use href="#star" fill="#f2b13a" transform="translate(915,398) scale(0.9)"/>
<path d="M939,407 L952,395 L959,401 L972,389" fill="none" stroke="#3aa8b0" stroke-width="2.5"/>
<path d="M967,387 L977,385 L974,394 Z" fill="#3aa8b0"/>
<!-- money bags -->
<g stroke="#1f2f4f" stroke-width="1.4">
<path d="M858,455 Q846,470 846,485 Q846,500 870,500 Q894,500 894,485 Q894,470 882,455 Z" fill="#2f9a5a"/>
<path d="M860,455 L856,444 Q870,448 884,444 L880,455 Z" fill="#2f9a5a"/>
<path d="M947,442 Q937,458 937,478 Q937,500 960,500 Q983,500 983,478 Q983,458 973,442 Z" fill="#2f9a5a"/>
<path d="M949,442 L944,426 Q960,432 976,426 L971,442 Z" fill="#2f9a5a"/>
<path d="M899,436 Q886,455 886,476 Q886,501 915,501 Q944,501 944,476 Q944,455 931,436 Z" fill="#2f9a5a"/>
<path d="M902,436 L896,419 Q915,425 934,419 L928,436 Z" fill="#2f9a5a"/>
</g>
<rect x="859" y="451" width="22" height="3" fill="#f2a03a"/>
<rect x="900" y="433" width="30" height="3" fill="#f2a03a"/>
<rect x="948" y="439" width="24" height="3" fill="#f2a03a"/>
<text x="870" y="489" text-anchor="middle" font-size="20" fill="#fff">¥</text>
<text x="915" y="483" text-anchor="middle" font-size="28" fill="#fff">¥</text>
<text x="961" y="487" text-anchor="middle" font-size="22" fill="#fff">€</text>

<!-- check labels -->
<g fill="none" stroke-width="1.6">
<circle cx="727" cy="521" r="6.5" stroke="#3d73c4"/><path d="M723,520 L726,524 L733,515" stroke="#3cb36a" stroke-width="2"/>
<circle cx="840" cy="521" r="6.5" stroke="#3d73c4"/><path d="M836,520 L839,524 L846,515" stroke="#3cb36a" stroke-width="2"/>
<circle cx="922" cy="521" r="6.5" stroke="#3d73c4"/><path d="M918,520 L921,524 L928,515" stroke="#3cb36a" stroke-width="2"/>
</g>
<text x="783" y="525" text-anchor="middle" font-size="12.5" fill="#2b3550" textLength="86" lengthAdjust="spacingAndGlyphs">コンバージョン</text>
<text x="783" y="541" text-anchor="middle" font-size="12.5" fill="#2b3550">の増加</text>
<text x="878" y="525" text-anchor="middle" font-size="12.5" fill="#2b3550">CPAの</text>
<text x="878" y="541" text-anchor="middle" font-size="12.5" fill="#2b3550">削減</text>
<text x="959" y="525" text-anchor="middle" font-size="12.5" fill="#2b3550">ROIの</text>
<text x="959" y="541" text-anchor="middle" font-size="12.5" fill="#2b3550">向上</text>
<use href="#star" fill="#ffffff" opacity="0.8" transform="translate(990,533) scale(2)"/>
</svg>
</body></html>
